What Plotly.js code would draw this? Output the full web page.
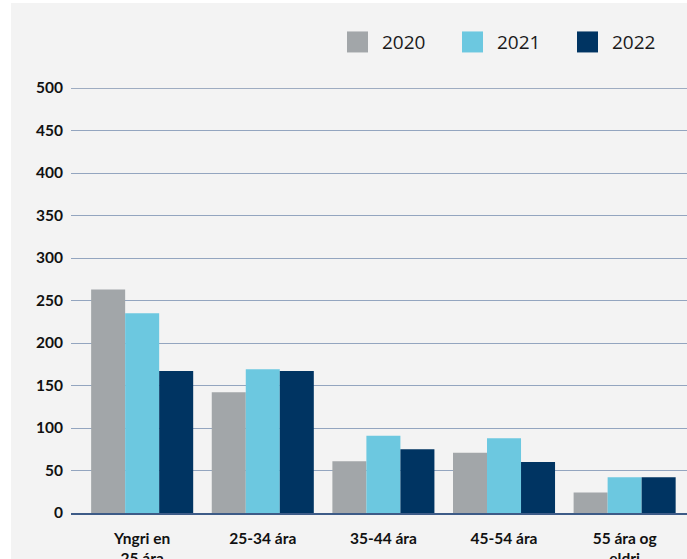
<!DOCTYPE html>
<html>
<head>
<meta charset="utf-8">
<script src="https://cdn.plot.ly/plotly-3.0.1.min.js"></script>
<style>
  html, body { margin: 0; padding: 0; background: #ffffff; }
  #chart { position: absolute; left: 11px; top: 3px; width: 676px; height: 556px; background: #f3f3f3; }
</style>
</head>
<body>
<div id="chart"></div>
<script>
const categories = ["Yngri en<br>25 ára", "25-34 ára", "35-44 ára", "45-54 ára", "55 ára og<br>eldri"];
const seriesNames = ["2020", "2021", "2022"];
const values2020 = [263, 142, 61, 71, 24];
const values2021 = [235, 169, 91, 88, 42];
const values2022 = [167, 167, 75, 60, 42];
const yTickValues = [0, 50, 100, 150, 200, 250, 300, 350, 400, 450, 500];

const colors = ["#a2a6a9", "#6cc8e0", "#003462"];
const allValues = [values2020, values2021, values2022];

const traces = allValues.map((vals, i) => ({
  type: "bar",
  name: seriesNames[i],
  x: categories,
  y: vals,
  marker: { color: colors[i], line: { width: 0 } },
  hoverinfo: "skip"
}));

const tickFont = { family: "Lato, sans-serif", size: 15.5, color: "#111111", weight: "bold" };

const layout = {
  width: 676,
  height: 556,
  paper_bgcolor: "#f3f3f3",
  plot_bgcolor: "#f3f3f3",
  margin: { l: 60, r: 0, t: 85, b: 46, autoexpand: false },
  barmode: "group",
  bargap: 0.154,
  bargroupgap: 0,
  showlegend: true,
  legend: {
    orientation: "h",
    x: 1, xanchor: "right",
    y: 1.108, yanchor: "middle",
    font: { family: "Open Sans, sans-serif", size: 19, color: "#1a1a1a" },
    bgcolor: "rgba(0,0,0,0)",
    entrywidth: 70,
    entrywidthmode: "pixels",
    traceorder: "normal"
  },
  xaxis: {
    type: "category",
    range: [-0.59, 4.517],
    showgrid: false,
    showline: true,
    linecolor: "#3d5b87",
    linewidth: 1.5,
    ticks: "",
    ticklabelstandoff: 11,
    tickfont: tickFont,
    fixedrange: true
  },
  yaxis: {
    range: [0, 500],
    tickvals: yTickValues,
    ticktext: yTickValues.map(String),
    showgrid: true,
    gridcolor: "#93a5bf",
    gridwidth: 1,
    zeroline: false,
    showline: false,
    ticks: "",
    ticklabelstandoff: 7,
    tickfont: tickFont,
    fixedrange: true
  },
  shapes: [
    { type: "line", xref: "paper", yref: "y", x0: 0, x1: 1, y0: 500, y1: 500, line: { color: "#4a6790", width: 1.2 } }
  ]
};

Plotly.newPlot("chart", traces, layout, { displayModeBar: false, staticPlot: true }).then(() => {
  // enlarge legend swatches to match the reference's larger squares
  document.querySelectorAll("#chart .legend .legendpoints path").forEach(p => {
    p.setAttribute("d", "M6,10.5H-15V-10.5H6Z");
  });
});
</script>
</body>
</html>
